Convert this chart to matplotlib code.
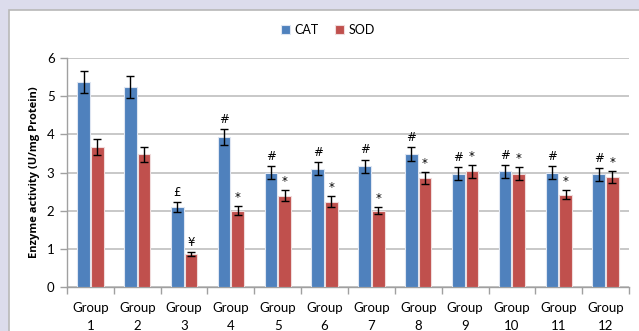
import numpy as np
import matplotlib

matplotlib.use("Agg")
import matplotlib.pyplot as plt
from matplotlib.patches import Rectangle

groups = [f"Group\n{i}" for i in range(1, 13)]
cat_mean = [5.37, 5.24, 2.10, 3.93, 2.99, 3.10, 3.17, 3.48, 2.97, 3.03, 3.00, 2.95]
cat_err = [0.29, 0.29, 0.13, 0.22, 0.17, 0.17, 0.17, 0.19, 0.17, 0.17, 0.17, 0.17]
sod_mean = [3.67, 3.48, 0.87, 2.00, 2.39, 2.24, 2.00, 2.85, 3.03, 2.97, 2.42, 2.88]
sod_err = [0.21, 0.20, 0.06, 0.12, 0.14, 0.14, 0.10, 0.16, 0.17, 0.17, 0.12, 0.16]
cat_marks = ["", "", "£", "#", "#", "#", "#", "#", "#", "#", "#", "#"]
sod_marks = ["", "", "¥", "*", "*", "*", "*", "*", "*", "*", "*", "*"]

plt.rcParams["font.family"] = ["Lato", "DejaVu Sans"]

fig = plt.figure(figsize=(6.39, 3.31), dpi=100, facecolor="#dcdcec")
# white chart panel with grey border
fig.patches.append(Rectangle((9 / 639, -0.05), 1.0, 1 - 10 / 331 + 0.05,
                             transform=fig.transFigure, facecolor="white",
                             edgecolor="#b8b8b8", linewidth=1.2, zorder=-10))

ax = fig.add_axes([67 / 639, 1 - 287 / 331, 562 / 639, 229 / 331])
ax.set_facecolor("none")

x = np.arange(len(groups))
w = 0.27
cat_c = "#4f81bd"
sod_c = "#c0504d"
ekw = dict(ecolor="black", elinewidth=1.0, capsize=3, capthick=1.0)

ax.bar(x - w / 2 - 0.01, cat_mean, w, color=cat_c, edgecolor="#dfe6f2",
       linewidth=0.8, yerr=cat_err, error_kw=ekw, label="CAT", zorder=3)
ax.bar(x + w / 2 + 0.01, sod_mean, w, color=sod_c, edgecolor="#f0dcdc",
       linewidth=0.8, yerr=sod_err, error_kw=ekw, label="SOD", zorder=3)

for i in range(len(groups)):
    if cat_marks[i]:
        ax.text(x[i] - w / 2 - 0.01, cat_mean[i] + cat_err[i] + 0.08, cat_marks[i],
                ha="center", va="bottom", fontsize=8.5, family="DejaVu Sans", zorder=4)
    if sod_marks[i]:
        ax.text(x[i] + w / 2 + 0.01, sod_mean[i] + sod_err[i] + 0.06, sod_marks[i],
                ha="center", va="bottom", fontsize=8.5, family="DejaVu Sans", zorder=4)

ax.set_xlim(-0.5, len(groups) - 0.5)
ax.set_ylim(0, 6)
ax.set_yticks(range(0, 7))
ax.yaxis.grid(True, color="#bfbfbf", linewidth=1.2, zorder=0)
ax.set_axisbelow(True)

ax.set_xticks(x)
ax.set_xticklabels(groups, fontsize=9.5, linespacing=1.55)
ax.set_xticks(np.arange(-0.5, len(groups)), minor=True)
ax.tick_params(axis="x", which="major", length=0, pad=11)
ax.tick_params(axis="x", which="minor", length=5, color="#a0a0a0", width=1)
ax.tick_params(axis="y", length=5, color="#a0a0a0", width=1, labelsize=9.5, pad=4)

for s in ["top", "right"]:
    ax.spines[s].set_visible(False)
for s in ["left", "bottom"]:
    ax.spines[s].set_color("#a0a0a0")
    ax.spines[s].set_linewidth(1.0)

ax.set_ylabel("Enzyme activity (U/mg Protein)", fontsize=8, fontweight="bold",
              family="Open Sans", labelpad=5)

fig.legend(*ax.get_legend_handles_labels(), loc="center",
           bbox_to_anchor=(328 / 639, 1 - 30 / 331), ncol=2, frameon=False,
           fontsize=9, handlelength=0.7, handleheight=0.7, columnspacing=1.3,
           handletextpad=0.4)

fig.savefig("out.png", dpi=100, facecolor=fig.get_facecolor())
